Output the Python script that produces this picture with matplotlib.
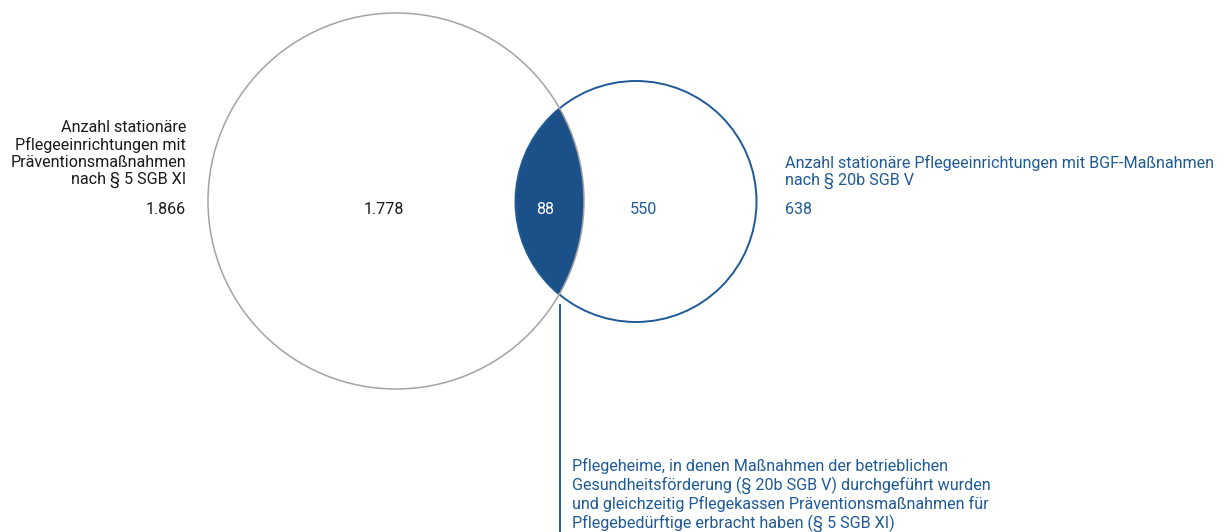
import matplotlib
matplotlib.use("Agg")
import matplotlib.pyplot as plt
from matplotlib.patches import Circle

# set sizes
only_left = 1778
both = 88
only_right = 550
total_left = 1866
total_right = 638

left_label = "Anzahl stationäre\nPflegeeinrichtungen mit\nPräventionsmaßnahmen\nnach § 5 SGB XI"
right_label = "Anzahl stationäre Pflegeeinrichtungen mit BGF-Maßnahmen\nnach § 20b SGB V"
both_label = ("Pflegeheime, in denen Maßnahmen der betrieblichen\n"
              "Gesundheitsförderung (§ 20b SGB V) durchgeführt wurden\n"
              "und gleichzeitig Pflegekassen Präventionsmaßnahmen für\n"
              "Pflegebedürftige erbracht haben (§ 5 SGB XI)")


def fmt(v):
    return f"{v:,}".replace(",", ".")


plt.rcParams['font.family'] = ['Roboto', 'DejaVu Sans']
blue = "#1f5a96"
dark = "#1b5088"
grey = "#a3a3a3"

fig = plt.figure(figsize=(12.29, 5.32), dpi=100)
ax = fig.add_axes([0, 0, 1, 1])
ax.set_xlim(0, 1229)
ax.set_ylim(532, 0)
ax.set_aspect("equal")
ax.axis("off")

big = Circle((396, 201), 188, fill=False, edgecolor=grey, lw=1.1, zorder=3)
small = Circle((636, 201.5), 120.5, fill=False, edgecolor=blue, lw=1.4, zorder=2)
lens = Circle((636, 201.5), 120.5, facecolor=dark, edgecolor="none", zorder=1)
ax.add_patch(big)
ax.add_patch(small)
ax.add_patch(lens)
lens.set_clip_path(big)

ax.plot([560, 560], [305, 532], color=blue, lw=1.4)

fs = 11.6
ls = 1.15
ax.text(186, 154, left_label, ha="right", va="center", fontsize=fs,
        color="#1a1a1a", linespacing=ls)
ax.text(186, 209, fmt(total_left), ha="right", va="center", fontsize=fs, color="#1a1a1a")
ax.text(384, 210, fmt(only_left), ha="center", va="center", fontsize=fs, color="#1a1a1a")
ax.text(545, 210, fmt(both), ha="center", va="center", fontsize=fs, color="white")
ax.text(643, 210, fmt(only_right), ha="center", va="center", fontsize=fs, color=blue)
ax.text(785, 172, right_label, ha="left", va="center", fontsize=fs, color=blue,
        linespacing=ls)
ax.text(785, 209, fmt(total_right), ha="left", va="center", fontsize=fs, color=blue)
ax.text(572, 495, both_label, ha="left", va="center", fontsize=fs, color=blue,
        linespacing=ls)

fig.savefig("out.png", dpi=100)
